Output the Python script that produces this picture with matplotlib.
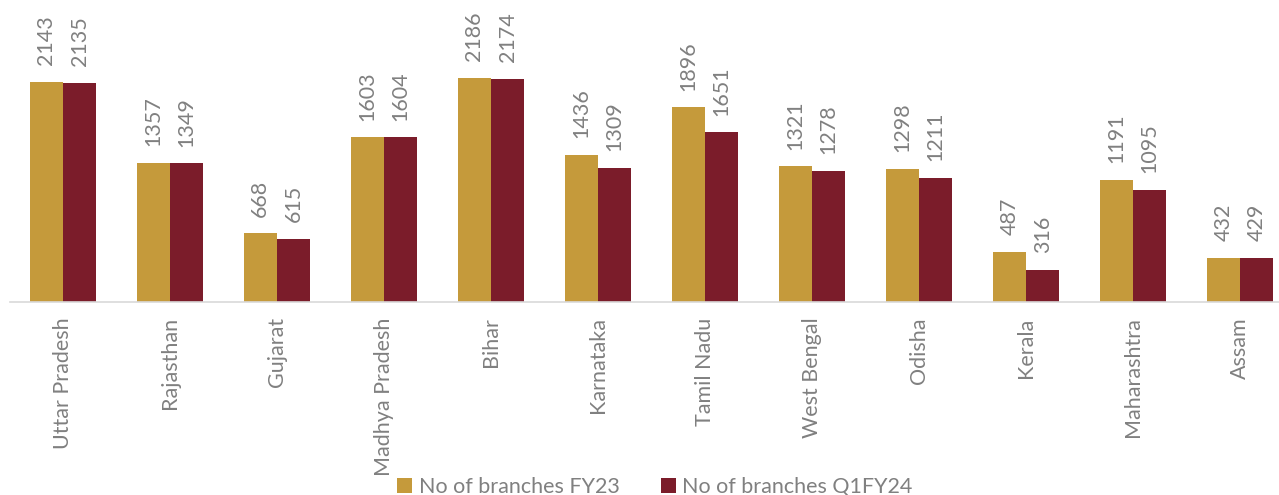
import matplotlib
matplotlib.use("Agg")
import matplotlib.pyplot as plt
import numpy as np

states = ["Uttar Pradesh", "Rajasthan", "Gujarat", "Madhya Pradesh", "Bihar",
          "Karnataka", "Tamil Nadu", "West Bengal", "Odisha", "Kerala",
          "Maharashtra", "Assam"]
fy23 = [2143, 1357, 668, 1603, 2186, 1436, 1896, 1321, 1298, 487, 1191, 432]
q1fy24 = [2135, 1349, 615, 1604, 2174, 1309, 1651, 1278, 1211, 316, 1095, 429]

gold = "#C59A3B"
maroon = "#7B1C2A"
grey = "#808080"

plt.rcParams['font.family'] = ['Lato', 'DejaVu Sans']

W, H = 1279, 495
fig = plt.figure(figsize=(W / 100, H / 100), dpi=100)
ax = fig.add_axes([9.5 / W, (H - 302) / H, 1284 / W, 256.7 / H])

x = np.arange(len(states))
bw = 0.313
b1 = ax.bar(x - bw / 2, fy23, bw, color=gold, label="No of branches FY23")
b2 = ax.bar(x + bw / 2, q1fy24, bw, color=maroon, label="No of branches Q1FY24")

for bars in (b1, b2):
    for r in bars:
        ax.annotate(str(int(r.get_height())), (r.get_x() + r.get_width() / 2, r.get_height()),
                    xytext=(0, 12), textcoords="offset points", rotation=90,
                    ha="center", va="bottom", color=grey, fontsize=15.5)

ax.set_xlim(-0.5, len(states) - 0.5)
ax.set_ylim(0, 2500)
ax.set_xticks(x)
ax.set_xticklabels(states, rotation=90, color=grey, fontsize=15.5)
ax.tick_params(axis="x", length=0, pad=11)
ax.set_yticks([])
for s in ["top", "right", "left"]:
    ax.spines[s].set_visible(False)
ax.spines["bottom"].set_color("#D9D9D9")
ax.spines["bottom"].set_linewidth(1.2)

fig.legend(handles=[b1, b2], loc="center", bbox_to_anchor=(655 / W, 1 - 487 / H),
           ncol=2, frameon=False, fontsize=15.5, labelcolor=grey,
           handlelength=0.7, handleheight=0.7, handletextpad=0.3, columnspacing=1.9,
           borderpad=0)

fig.savefig("out.png", dpi=100)
